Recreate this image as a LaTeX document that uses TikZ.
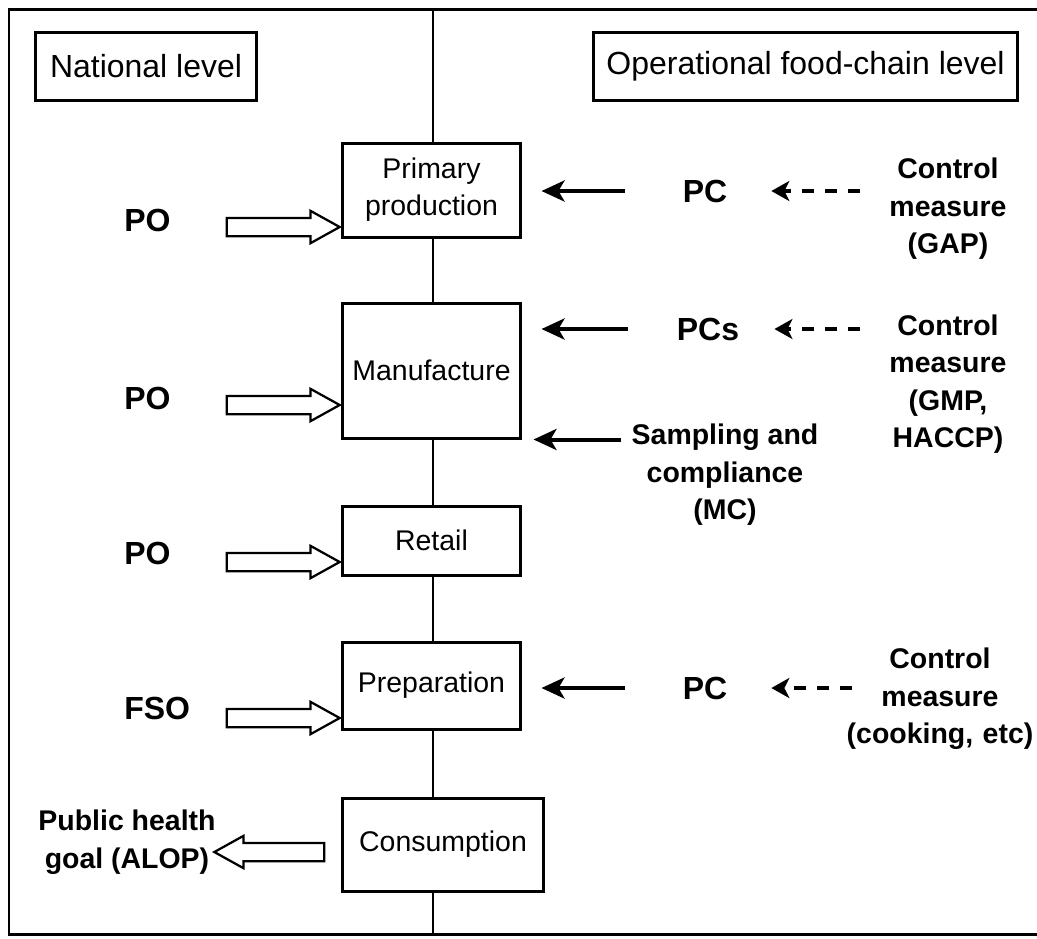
\documentclass[tikz,border=0pt]{standalone}
\usepackage{fontspec}
\setmainfont{Liberation Sans}
\usetikzlibrary{arrows.meta,shapes.arrows}

\tikzset{
  levelbox/.style={draw,line width=0.6mm,minimum height=13.6mm,inner sep=0,font=\fontsize{18.2}{22}\selectfont},
  stagebox/.style={draw,fill=white,line width=0.6mm,minimum width=35.8mm,inner sep=0,align=center,font=\fontsize{16.2}{21}\selectfont},
  bigtext/.style={inner sep=0,font=\fontsize{18.2}{22}\selectfont\bfseries},
  smalltext/.style={inner sep=0,align=center,font=\fontsize{16.2}{21.3}\selectfont\bfseries},
  fatarrow/.style={single arrow,draw,fill=white,line width=0.45mm,inner xsep=0,inner ysep=1.6mm,anchor=tip,
    minimum height=22.6mm,minimum width=0,single arrow head extend=1.4mm,
    single arrow tip angle=58,single arrow head indent=0},
  pcarrow/.style={line width=0.8mm,-{Stealth[length=4.6mm,width=4.2mm,inset=1.2mm]},
    shorten <=9.8mm,shorten >=3.8mm},
  cmarrow/.style={line width=0.7mm,dash pattern=on 2.4mm off 2.2mm,
    -{Stealth[length=3.6mm,width=4mm,inset=1mm]},shorten <=-2.5mm,shorten >=7mm}
}

\begin{document}
\begin{tikzpicture}[x=0.02cm,y=-0.02cm]
\useasboundingbox (0,0) rectangle (1037,938);

\draw[line width=0.6mm] (1037,9) -- (9,9) -- (9,934) -- (1037,934);
\draw[line width=0.4mm] (433,9) -- (433,934);

\node[levelbox,minimum width=44.4mm] (national) at (146,66) {National level};
\node[levelbox,minimum width=85mm] (operational) at (805.5,66) {Operational food-chain level};

\node[stagebox,minimum height=18.8mm] (primary) at (431.5,190) {Primary\\production};
\node[stagebox,minimum height=27mm] (manufacture) at (431.5,370.5) {Manufacture};
\node[stagebox,minimum height=13.8mm] (retail) at (431.5,540.5) {Retail};
\node[stagebox,minimum height=17.4mm] (preparation) at (431.5,685.5) {Preparation};
\node[stagebox,minimum height=18.6mm,minimum width=40.4mm] (consumption) at (443,844.5) {Consumption};

\node[bigtext,anchor=west] (po1) at (124,220) {PO};
\node[bigtext,anchor=west] (po2) at (124,398) {PO};
\node[bigtext,anchor=west] (po3) at (124,553) {PO};
\node[bigtext,anchor=west] (fso) at (124,708) {FSO};
\node[smalltext] (alop) at (127,842) {Public health\\goal (ALOP)};

\node[fatarrow] (po1arrow) at (342,227) {};
\node[fatarrow] (po2arrow) at (342,405) {};
\node[fatarrow] (po3arrow) at (342,562) {};
\node[fatarrow] (fsoarrow) at (342,718) {};
\node[fatarrow,shape border rotate=180,minimum height=22mm] (alopnarrow) at (212,852) {};

\node[bigtext,minimum width=12.4mm] (pc1) at (705,191) {PC};
\node[bigtext,minimum width=12.4mm] (pc2) at (708,329) {PCs};
\node[bigtext,minimum width=12.4mm] (pc3) at (705,688) {PC};

\node[smalltext,text width=40mm] (cm1) at (948,209) {Control\\measure\\(GAP)};
\node[smalltext,text width=40mm] (cm2) at (948,384) {Control\\measure\\(GMP,\\HACCP)};
\node[smalltext,text width=40mm] (cm3) at (940,699) {Control\\measure\\(cooking, etc)};
\node[smalltext,inner xsep=2mm] (sampling) at (725,475) {Sampling and\\compliance\\(MC)};

\draw[pcarrow] (pc1.west) -- (primary.east |- pc1.west);
\draw[pcarrow] (pc2.west) -- (manufacture.east |- pc2.west);
\draw[pcarrow] (pc3.west) -- (preparation.east |- pc3.west);
\draw[pcarrow,shorten <=0mm,shorten >=2.2mm] (sampling.west |- manufacture.south east) -- (manufacture.south east);

\draw[cmarrow] (cm1.west |- pc1) -- (pc1.east);
\draw[cmarrow] (cm2.west |- pc2) -- (pc2.east);
\draw[cmarrow] (cm3.west |- pc3) -- (pc3.east);
\end{tikzpicture}
\end{document}
